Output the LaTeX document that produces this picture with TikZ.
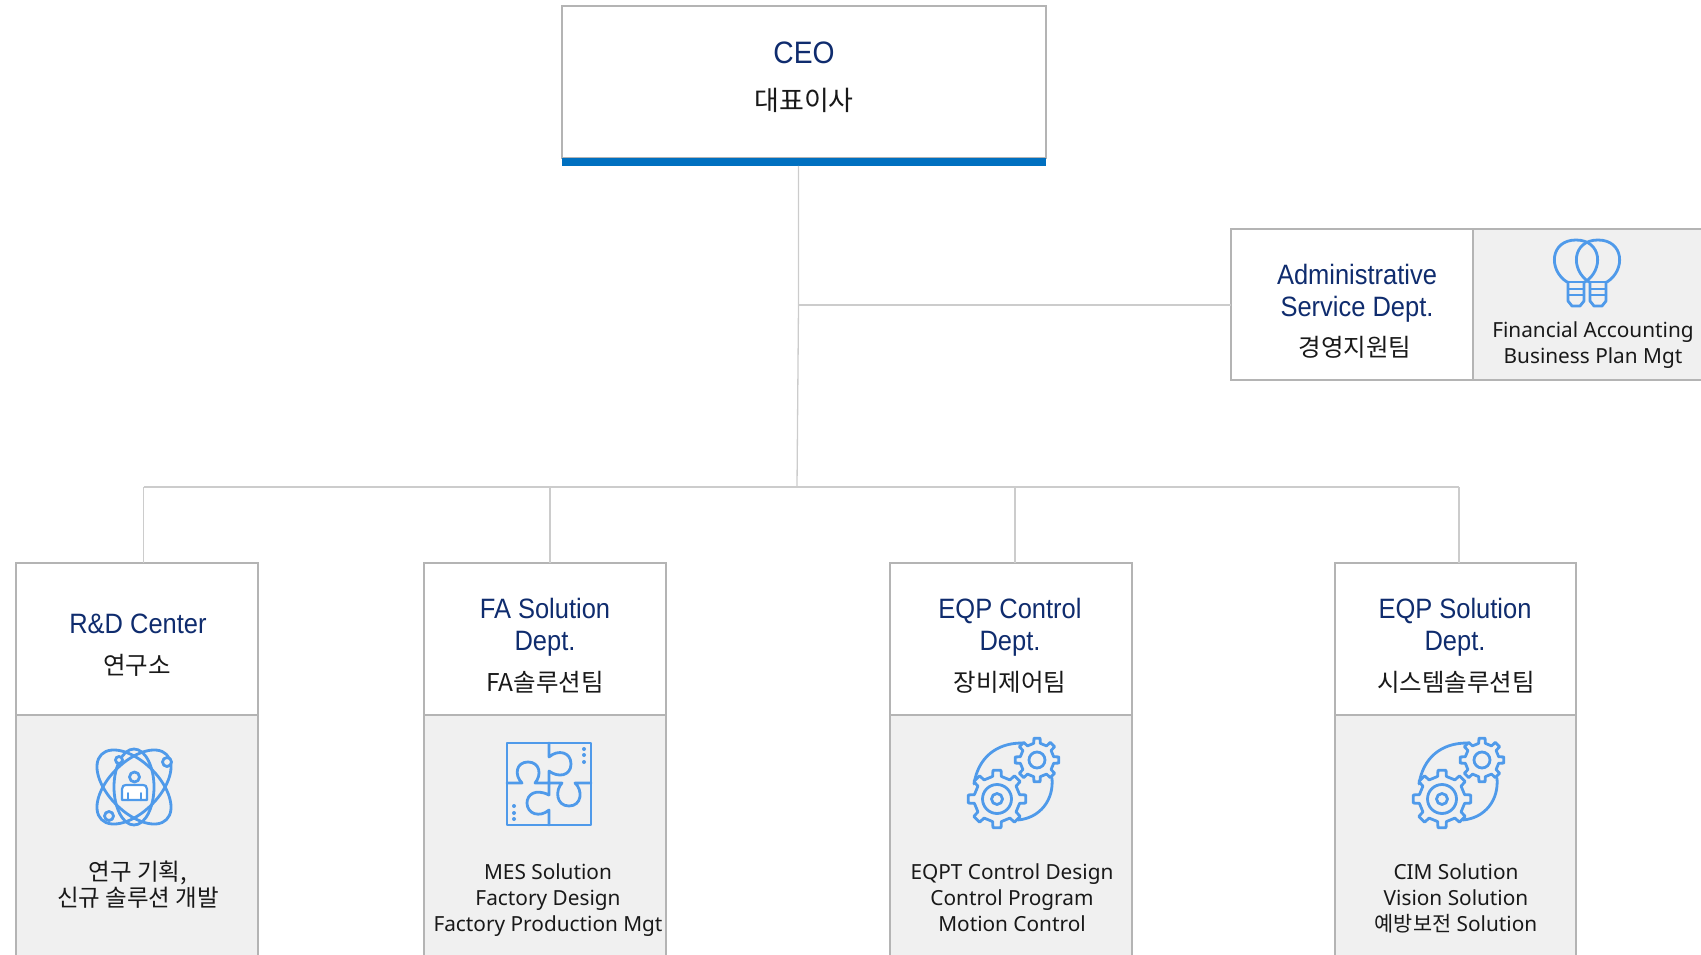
\documentclass[tikz,border=0pt]{standalone}
\usepackage{fontspec}
\setmainfont{Noto Sans}
\newfontfamily\headfont[FakeStretch=0.91]{Liberation Sans}
\newfontfamily\korfont{Noto Sans CJK KR}
\definecolor{edgegray}{HTML}{B4B4B4}
\definecolor{linkgray}{HTML}{CCCCCC}
\definecolor{panelgray}{HTML}{F0F0F0}
\definecolor{navy}{HTML}{0F2C6E}
\definecolor{barblue}{HTML}{0070C0}
\definecolor{iconblue}{HTML}{4F9AEA}
\tikzset{
  x=1pt,y=-1pt,
  whitebox/.style={draw=edgegray,line width=2pt,fill=white,anchor=north west,inner sep=0pt,outer sep=0pt},
  graybox/.style={draw=edgegray,line width=2pt,fill=panelgray,anchor=north west,inner sep=0pt,outer sep=0pt},
  link/.style={draw=linkgray,line width=1.3pt},
  headtext/.style={align=center,inner sep=0pt,text=navy,font=\headfont\fontsize{28}{32}\selectfont},
  kortext/.style={align=center,inner sep=0pt,text=black!90,font=\korfont\fontsize{24.5}{30}\selectfont},
  bodytext/.style={align=center,inner sep=0pt,text=black!90,font=\fontsize{20.8}{26}\selectfont},
  icon/.style={draw=iconblue,line width=2.8pt,line join=round,line cap=round},
}
\usetikzlibrary{calc}
\newcommand{\gearshape}[4]{% x y outer inner
  \draw[icon,fill=panelgray] (#1,#2) ++(-11:#4)
    \foreach \k in {0,45,...,315} {
      -- ($(#1,#2)+(\k-11:#4)$) -- ($(#1,#2)+(\k-8:#3)$) -- ($(#1,#2)+(\k+8:#3)$) -- ($(#1,#2)+(\k+11:#4)$)
    } -- cycle;
}
\newcommand{\gearicon}[1]{%
  \begin{scope}[shift={(#1,0)}]
    \draw[icon] (974,784) .. controls (978,758) and (996,743) .. (1022,743);
    \draw[icon] (1052,778) .. controls (1054,800) and (1040,818) .. (1018,820);
    \gearshape{997}{799}{29}{23}
    \draw[icon] (997,799) circle (14.5);
    \draw[icon] (997,799) circle (5.5);
    \gearshape{1037}{760}{22}{17}
    \draw[icon] (1037,760) circle (8);
  \end{scope}
}
\begin{document}
\begin{tikzpicture}
\useasboundingbox (0,0) rectangle (1701,955);
\clip (0,0) rectangle (1701,955);
% boxes
\node[whitebox,minimum width=484pt,minimum height=152pt] (ceo) at (562,6) {};
\fill[barblue] (ceo.south west) rectangle (1046,166);
\coordinate (ceobar) at (798.5,166);
\node[whitebox,minimum width=242.5pt,minimum height=151pt] (admin) at (1230.5,229) {};
\node[graybox,minimum width=260pt,minimum height=151pt] (adminp) at (1473,229) {};
\node[whitebox,minimum width=241.5pt,minimum height=152pt] (rd) at (16,563) {};
\node[graybox,minimum width=241.5pt,minimum height=270pt] (rdp) at (16,715) {};
\node[whitebox,minimum width=241.5pt,minimum height=152pt] (fa) at (424,563) {};
\node[graybox,minimum width=241.5pt,minimum height=270pt] (fap) at (424,715) {};
\node[whitebox,minimum width=241.5pt,minimum height=152pt] (eqc) at (890,563) {};
\node[graybox,minimum width=241.5pt,minimum height=270pt] (eqcp) at (890,715) {};
\node[whitebox,minimum width=241.5pt,minimum height=152pt] (eqs) at (1334.5,563) {};
\node[graybox,minimum width=241.5pt,minimum height=270pt] (eqsp) at (1334.5,715) {};
% connectors
\coordinate (jadmin) at (798.5,305);
\coordinate (jbus) at (797,487);
\coordinate (jrd) at (143.5,487);
\coordinate (jfa) at (550,487);
\coordinate (jeqc) at (1015,487);
\coordinate (jeqs) at (1459,487);
\draw[link] (ceobar) -- (jadmin) -- (jbus);
\draw[link] (jadmin) -- (jadmin -| admin.west);
\draw[link] (jrd) -- (jeqs);
\draw[link] (jrd) -- (jrd |- rd.north);
\draw[link] (jfa) -- (jfa |- fa.north);
\draw[link] (jeqc) -- (jeqc |- eqc.north);
\draw[link] (jeqs) -- (jeqs |- eqs.north);
% texts
\node[headtext,font=\headfont\fontsize{31}{32}\selectfont] (tceo) at (804,53) {CEO};
\node[kortext,font=\korfont\fontsize{27}{30}\selectfont] (kceo) at (804,100) {대표이사};
\node[headtext] (tadmin) at (1357,293) {Administrative\\Service Dept.};
\node[kortext] (kadmin) at (1355,347) {경영지원팀};
\node[bodytext] (badmin) at (1593,345) {Financial Accounting\\Business Plan Mgt};
\node[headtext] (trd) at (138,624) {R\&D Center};
\node[kortext] (krd) at (137,665) {연구소};
\node[bodytext,font=\korfont\fontsize{23.5}{26}\selectfont] (brd) at (138,885) {연구 기획,\\신규 솔루션 개발};
\node[headtext] (tfa) at (545,627) {FA Solution\\Dept.};
\node[kortext] (kfa) at (545,682) {FA솔루션팀};
\node[bodytext] (bfa) at (548,900) {MES Solution\\Factory Design\\Factory Production Mgt};
\node[headtext] (teqc) at (1010,627) {EQP Control\\Dept.};
\node[kortext] (keqc) at (1010,682) {장비제어팀};
\node[bodytext] (beqc) at (1012,898) {EQPT Control Design\\Control Program\\Motion Control};
\node[headtext] (teqs) at (1455,627) {EQP Solution\\Dept.};
\node[kortext] (keqs) at (1456,682) {시스템솔루션팀};
\node[bodytext] (beqs) at (1456,898) {CIM Solution\\Vision Solution\\{\korfont 예방보전} Solution};
% bulbs icon
\foreach \dx in {0,22}{
  \begin{scope}[shift={(\dx,0)}]
    \draw[icon] (1567,282) .. controls (1548,270) and (1550,240) .. (1576,240)
       .. controls (1602,240) and (1604,270) .. (1585,282);
    \draw[icon] (1567,282) -- (1585,282);
    \draw[icon,line width=2pt] (1568,289) -- (1584,289) (1568,295) -- (1584,295);
    \draw[icon] (1568,282) -- (1568,301) -- (1572,306) -- (1580,306) -- (1584,301) -- (1584,282);
  \end{scope}
}
% atom icon
\draw[icon] (134,787) ellipse (20 and 38);
\draw[icon,rotate around={45:(134,787)}] (134,787) ellipse (46 and 25);
\draw[icon,rotate around={-45:(134,787)}] (134,787) ellipse (46 and 25);
\draw[icon,line width=2.2pt,fill=white] (122,800) -- (122,789) .. controls (122,786) and (124,785) .. (126,785) -- (143,785) .. controls (145,785) and (147,786) .. (147,789) -- (147,800) -- cycle;
\draw[icon,line width=2pt] (128,793) -- (128,800) (141,793) -- (141,800);
\draw[icon,fill=panelgray] (134.5,777) circle (5);
\draw[icon,fill=panelgray] (119,760) circle (3.5);
\draw[icon,fill=panelgray] (167,762) circle (4.5);
\draw[icon,fill=panelgray] (109,816) circle (4.5);
% puzzle icon
\draw[icon] (507,743) rectangle (591,825);
\draw[icon] (549,743) -- (549,757) .. controls (558,749) and (571,752) .. (571,764)
  .. controls (571,776) and (558,778) .. (549,771) -- (549,783)
  -- (535,783) .. controls (542,775) and (540,762) .. (528,762)
  .. controls (516,762) and (514,775) .. (522,783) -- (507,783);
\draw[icon] (591,783) -- (575,783) .. controls (583,790) and (582,806) .. (569,806)
  .. controls (556,806) and (555,790) .. (562,783) -- (549,783)
  -- (549,795) .. controls (535,788) and (527,795) .. (527,803)
  .. controls (527,814) and (540,818) .. (549,810) -- (549,825);
\foreach \yy in {749,755,762}{\fill[iconblue] (584,\yy) circle (2);}
\foreach \yy in {806,813,819}{\fill[iconblue] (514,\yy) circle (2);}
% gear icons
\gearicon{0}
\gearicon{445}
\end{tikzpicture}
\end{document}
